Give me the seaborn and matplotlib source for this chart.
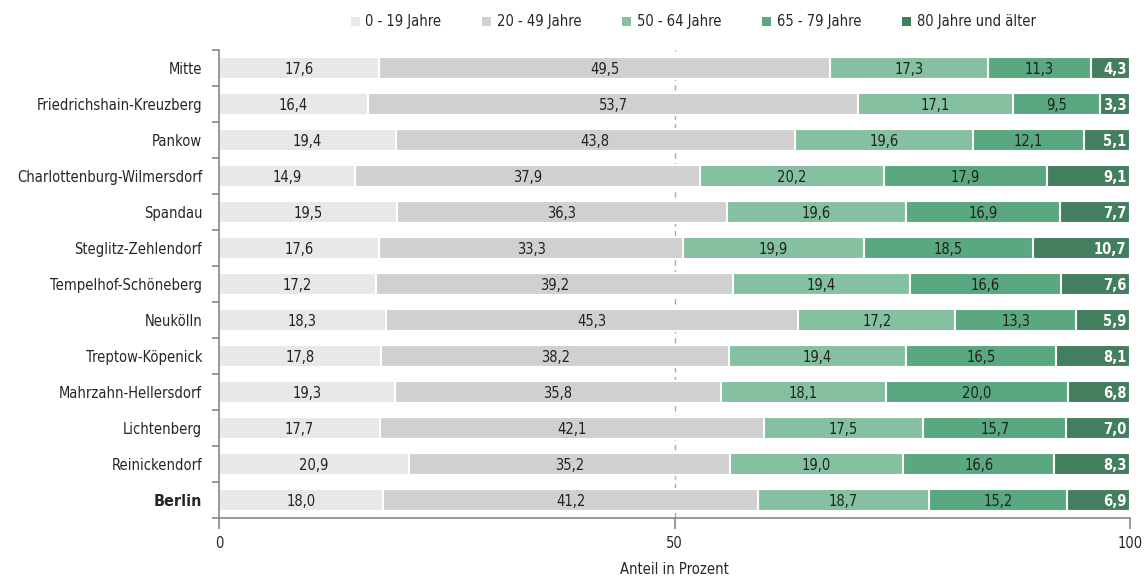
import numpy as np
import pandas as pd
import matplotlib
matplotlib.use("Agg")
import matplotlib.pyplot as plt
import seaborn as sns
from matplotlib.patches import Patch

districts = ["Mitte", "Friedrichshain-Kreuzberg", "Pankow", "Charlottenburg-Wilmersdorf",
             "Spandau", "Steglitz-Zehlendorf", "Tempelhof-Schöneberg", "Neukölln",
             "Treptow-Köpenick", "Mahrzahn-Hellersdorf", "Lichtenberg", "Reinickendorf", "Berlin"]
age_groups = ["0 - 19 Jahre", "20 - 49 Jahre", "50 - 64 Jahre", "65 - 79 Jahre", "80 Jahre und älter"]
a0_19 = [17.6, 16.4, 19.4, 14.9, 19.5, 17.6, 17.2, 18.3, 17.8, 19.3, 17.7, 20.9, 18.0]
a20_49 = [49.5, 53.7, 43.8, 37.9, 36.3, 33.3, 39.2, 45.3, 38.2, 35.8, 42.1, 35.2, 41.2]
a50_64 = [17.3, 17.1, 19.6, 20.2, 19.6, 19.9, 19.4, 17.2, 19.4, 18.1, 17.5, 19.0, 18.7]
a65_79 = [11.3, 9.5, 12.1, 17.9, 16.9, 18.5, 16.6, 13.3, 16.5, 20.0, 15.7, 16.6, 15.2]
a80 = [4.3, 3.3, 5.1, 9.1, 7.7, 10.7, 7.6, 5.9, 8.1, 6.8, 7.0, 8.3, 6.9]
x_ticks = [0, 50, 100]

colors = ["#e8e8e8", "#d0d0d0", "#85c1a0", "#5aa87f", "#437f5e"]

sns.set_style("white")
plt.rcParams['font.family'] = ['DejaVu Sans']
plt.rcParams['font.stretch'] = 'condensed'

series = [a0_19, a20_49, a50_64, a65_79, a80]
vals = np.array(series)  # groups x districts
cum = np.cumsum(vals, axis=0)

fig = plt.figure(figsize=(11.44, 5.76), dpi=100)
ax = fig.add_axes([0.1914, 0.1007, 0.7964, 0.8125])

ax.axvline(50, color="#aaaaaa", linestyle=(0, (4, 3)), linewidth=1, zorder=0)

for i in range(len(series) - 1, -1, -1):
    df = pd.DataFrame({"district": districts, "value": cum[i]})
    sns.barplot(data=df, x="value", y="district", orient="h", color=colors[i],
                saturation=1, width=0.6, edgecolor="white", linewidth=1.5, ax=ax, zorder=2)

FS = 10.5
for j in range(len(districts)):
    for i in range(len(series)):
        v = vals[i, j]
        label = f"{v:.1f}".replace(".", ",")
        if i == len(series) - 1:
            ax.text(cum[i, j] - 0.4, j, label, ha="right", va="center_baseline", fontsize=FS,
                    color="white", fontweight="bold", zorder=5)
        else:
            ax.text(cum[i, j] - v / 2, j, label, ha="center", va="center_baseline", fontsize=FS,
                    color="#222222", zorder=5)

ax.set_xlim(0, 100)
ax.set_ylim(len(districts) - 0.5, -0.5)
ax.set_xticks(x_ticks)
ax.set_xticklabels([str(t) for t in x_ticks], fontsize=FS)
ax.set_xlabel("Anteil in Prozent", fontsize=FS, labelpad=8)
ax.set_ylabel("")
ax.set_yticks(range(len(districts)))
ax.set_yticklabels(districts, fontsize=FS)
for lab in ax.get_yticklabels():
    if lab.get_text() == "Berlin":
        lab.set_fontweight("bold")
        lab.set_fontsize(11.5)
ax.set_yticks(np.arange(-0.5, len(districts), 1), minor=True)
ax.tick_params(axis="y", which="major", length=0, pad=12, left=True)
ax.tick_params(axis="y", which="minor", length=5, color="#888888", width=1.2, direction="out", left=True)
ax.tick_params(axis="x", which="major", length=8, color="#888888", width=1.2, direction="out",
               pad=5, bottom=True)

for s in ["top", "right"]:
    ax.spines[s].set_visible(False)
for s in ["left", "bottom"]:
    ax.spines[s].set_color("#888888")
    ax.spines[s].set_linewidth(1.2)
ax.grid(False)

handles = [Patch(facecolor=c, edgecolor="none", label=l) for c, l in zip(colors, age_groups)]
fig.legend(handles=handles, loc="center", bbox_to_anchor=(0.606, 0.962), ncol=5, frameon=False,
           fontsize=FS, handlelength=0.6, handleheight=0.6, handletextpad=0.4, columnspacing=2.8)

fig.savefig("out.png", dpi=100)
